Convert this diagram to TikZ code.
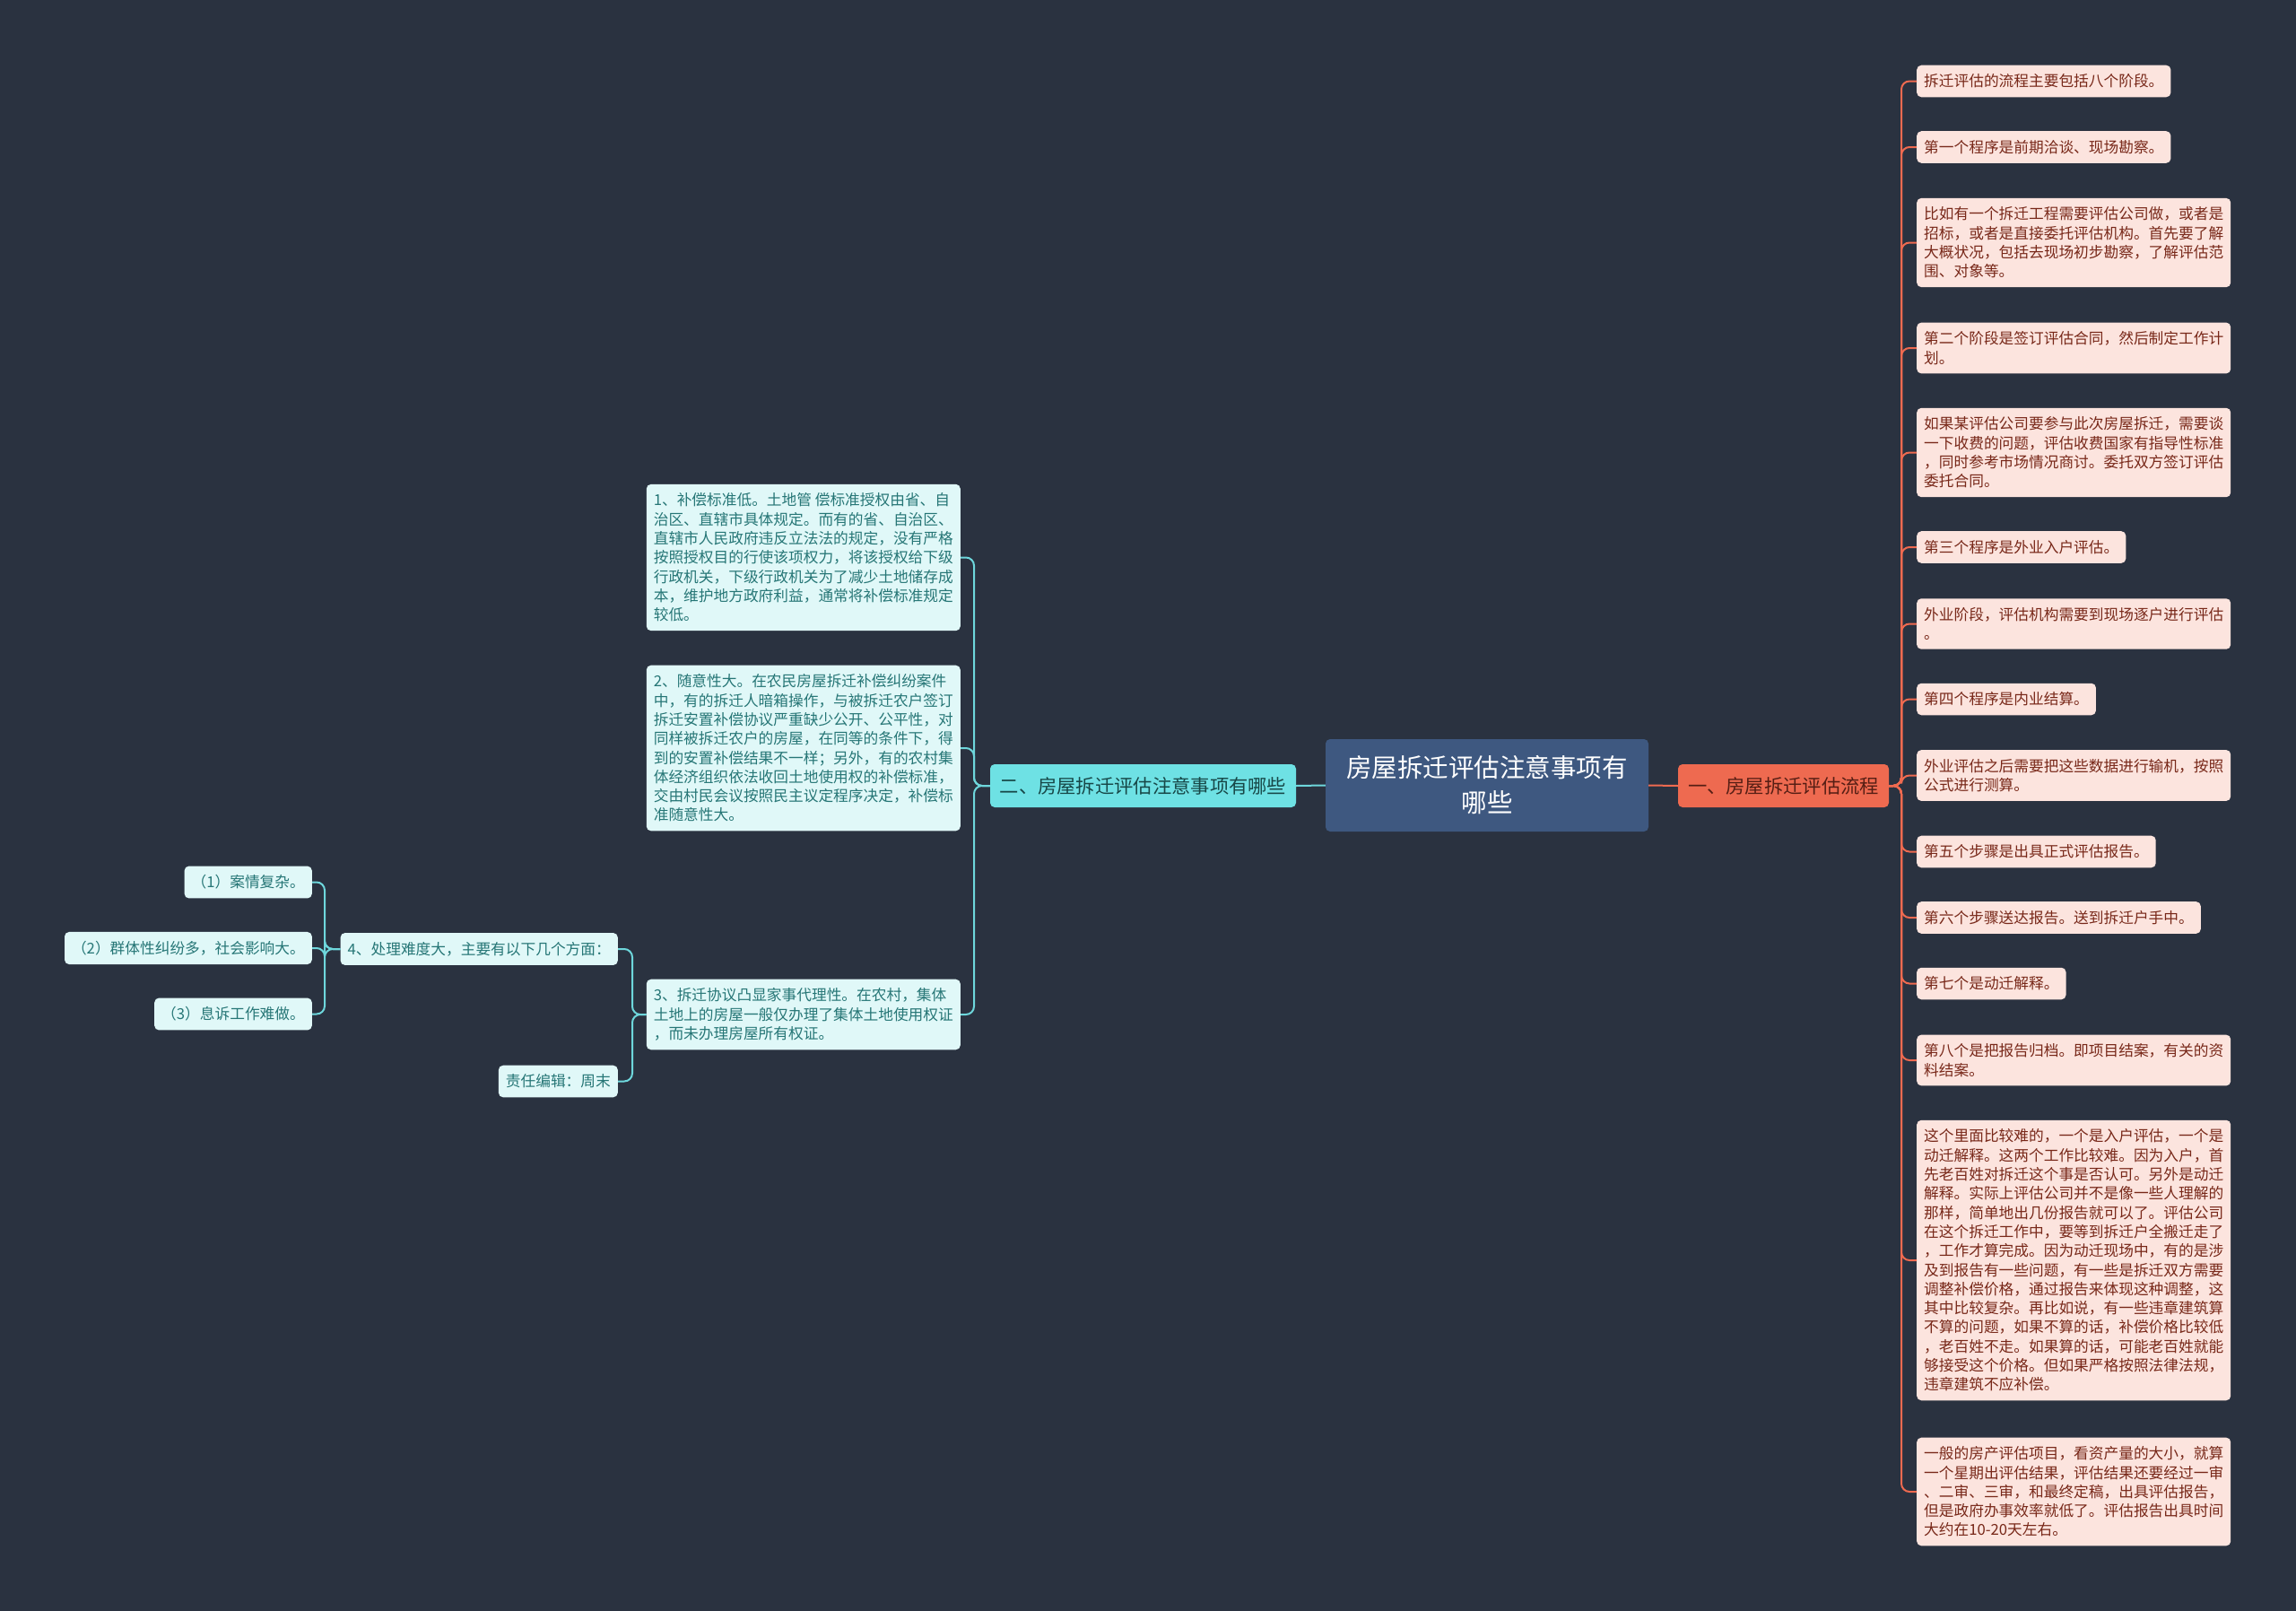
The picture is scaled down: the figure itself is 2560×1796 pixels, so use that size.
\documentclass[tikz,border=0pt]{standalone}
\usepackage{fontspec}
\setmainfont{Noto Sans CJK SC}
\usepackage{xcolor}
\usepackage{tikz}
\usetikzlibrary{arrows.meta, positioning, calc}

\definecolor{hintergrund}{RGB}{42,50,64}
\definecolor{pusat}{RGB}{62,88,128}
\definecolor{jingga}{RGB}{238,106,80}
\definecolor{jinggatua}{RGB}{85,30,20}
\definecolor{jinggamuda}{RGB}{252,228,222}
\definecolor{jinggateks}{RGB}{120,40,25}
\definecolor{toska}{RGB}{110,225,228}
\definecolor{toskamuda}{RGB}{224,248,248}
\definecolor{toskateks}{RGB}{38,118,118}
\definecolor{toskagaris}{RGB}{110,215,220}

\begin{document}
\begin{tikzpicture}[
    x=1pt, y=-1pt,
    pusatbox/.style={fill=pusat, rounded corners=5pt, text=white, align=center,
                     minimum width=360pt, minimum height=103pt,
                     font=\fontsize{28.5}{39}\selectfont},
    cabang/.style={rounded corners=5pt, minimum height=48pt, inner xsep=8pt,
                   font=\fontsize{21.3}{26}\selectfont},
    daunkanan/.style={fill=jinggamuda, text=jinggateks, rounded corners=5pt,
                      align=left, anchor=west, inner xsep=8pt, inner ysep=10pt,
                      font=\fontsize{16.7}{21.3}\selectfont},
    daunkiri/.style={fill=toskamuda, text=toskateks, rounded corners=5pt,
                     align=left, anchor=east, inner xsep=8pt, inner ysep=10pt,
                     font=\fontsize{16.7}{21.3}\selectfont},
    garisjingga/.style={draw=jingga, line width=2pt, rounded corners=9pt},
    garistoska/.style={draw=toskagaris, line width=2pt, rounded corners=9pt}
  ]
    \fill[hintergrund] (0,0) rectangle (2560,1796);
    \useasboundingbox (0,0) rectangle (2560,1796);

    \node[pusatbox] (pusat) at (1658,875.5)
      {房屋拆迁评估注意事项有\\哪些};
    \node[cabang, fill=jingga, text=jinggatua, minimum width=235pt] (satu)
      at (1988.5,876) {一、房屋拆迁评估流程};
    \node[cabang, fill=toska, text=toskateks!60!black, minimum width=341pt] (dua)
      at (1274.5,876) {二、房屋拆迁评估注意事项有哪些};

    \node[daunkanan] (r1) at (2137,90.5) {拆迁评估的流程主要包括八个阶段。};
    \node[daunkanan] (r2) at (2137,164) {第一个程序是前期洽谈、现场勘察。};
    \node[daunkanan] (r3) at (2137,270.5)
      {比如有一个拆迁工程需要评估公司做，或者是\\招标，或者是直接委托评估机构。首先要了解\\大概状况，包括去现场初步勘察，了解评估范\\围、对象等。};
    \node[daunkanan] (r4) at (2137,388)
      {第二个阶段是签订评估合同，然后制定工作计\\划。};
    \node[daunkanan] (r5) at (2137,504.5)
      {如果某评估公司要参与此次房屋拆迁，需要谈\\一下收费的问题，评估收费国家有指导性标准\\，同时参考市场情况商讨。委托双方签订评估\\委托合同。};
    \node[daunkanan] (r6) at (2137,610) {第三个程序是外业入户评估。};
    \node[daunkanan] (r7) at (2137,695.5)
      {外业阶段，评估机构需要到现场逐户进行评估\\。};
    \node[daunkanan] (r8) at (2137,779.5) {第四个程序是内业结算。};
    \node[daunkanan] (r9) at (2137,864.5)
      {外业评估之后需要把这些数据进行输机，按照\\公式进行测算。};
    \node[daunkanan] (r10) at (2137,949.5) {第五个步骤是出具正式评估报告。};
    \node[daunkanan] (r11) at (2137,1023) {第六个步骤送达报告。送到拆迁户手中。};
    \node[daunkanan] (r12) at (2137,1096.5) {第七个是动迁解释。};
    \node[daunkanan] (r13) at (2137,1182)
      {第八个是把报告归档。即项目结案，有关的资\\料结案。};
    \node[daunkanan] (r14) at (2137,1405)
      {这个里面比较难的，一个是入户评估，一个是\\动迁解释。这两个工作比较难。因为入户，首\\先老百姓对拆迁这个事是否认可。另外是动迁\\解释。实际上评估公司并不是像一些人理解的\\那样，简单地出几份报告就可以了。评估公司\\在这个拆迁工作中，要等到拆迁户全搬迁走了\\，工作才算完成。因为动迁现场中，有的是涉\\及到报告有一些问题，有一些是拆迁双方需要\\调整补偿价格，通过报告来体现这种调整，这\\其中比较复杂。再比如说，有一些违章建筑算\\不算的问题，如果不算的话，补偿价格比较低\\，老百姓不走。如果算的话，可能老百姓就能\\够接受这个价格。但如果严格按照法律法规，\\违章建筑不应补偿。};
    \node[daunkanan] (r15) at (2137,1663)
      {一般的房产评估项目，看资产量的大小，就算\\一个星期出评估结果，评估结果还要经过一审\\、二审、三审，和最终定稿，出具评估报告，\\但是政府办事效率就低了。评估报告出具时间\\大约在10-20天左右。};

    \node[daunkiri] (l1) at (1071,621.5)
      {1、补偿标准低。土地管 偿标准授权由省、自\\治区、直辖市具体规定。而有的省、自治区、\\直辖市人民政府违反立法法的规定，没有严格\\按照授权目的行使该项权力，将该授权给下级\\行政机关，下级行政机关为了减少土地储存成\\本，维护地方政府利益，通常将补偿标准规定\\较低。};
    \node[daunkiri] (l2) at (1071,834)
      {2、随意性大。在农民房屋拆迁补偿纠纷案件\\中，有的拆迁人暗箱操作，与被拆迁农户签订\\拆迁安置补偿协议严重缺少公开、公平性，对\\同样被拆迁农户的房屋，在同等的条件下，得\\到的安置补偿结果不一样；另外，有的农村集\\体经济组织依法收回土地使用权的补偿标准，\\交由村民会议按照民主议定程序决定，补偿标\\准随意性大。};
    \node[daunkiri] (l3) at (1071,1131)
      {3、拆迁协议凸显家事代理性。在农村，集体\\土地上的房屋一般仅办理了集体土地使用权证\\，而未办理房屋所有权证。};
    \node[daunkiri] (l4) at (689,1058) {4、处理难度大，主要有以下几个方面：};
    \node[daunkiri] (l5) at (689,1205.5) {责任编辑：周末};
    \node[daunkiri] (s1) at (348,983.5) {（1）案情复杂。};
    \node[daunkiri] (s2) at (348,1057) {（2）群体性纠纷多，社会影响大。};
    \node[daunkiri] (s3) at (348,1130.5) {（3）息诉工作难做。};

    \coordinate (kanantrunk) at (2120,876);
    \coordinate (kiritrunk) at (1086,876);
    \coordinate (tigatrunk) at (705,1131);
    \coordinate (empattrunk) at (362,1058);

    \draw[garisjingga] (pusat.east) -- (satu.west);
    \draw[garistoska] (pusat.west) -- (dua.east);
    \foreach \i in {1,...,15}
      \draw[garisjingga] (satu.east) -- (kanantrunk) |- (r\i.west);
    \foreach \i in {1,2,3}
      \draw[garistoska] (dua.west) -- (kiritrunk) |- (l\i.east);
    \foreach \i in {4,5}
      \draw[garistoska] (l3.west) -- (tigatrunk) |- (l\i.east);
    \foreach \i in {1,2,3}
      \draw[garistoska] (l4.west) -- (empattrunk) |- (s\i.east);
  \end{tikzpicture}
\end{document}
